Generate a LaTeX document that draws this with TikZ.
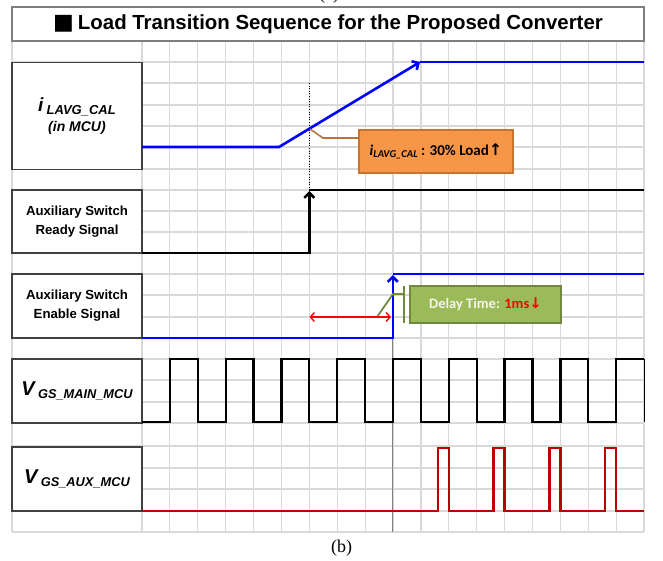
\documentclass[tikz,border=0pt]{standalone}
\usepackage{fontspec}
\setmainfont{Liberation Sans}
\newfontfamily\calib{Carlito}
\newfontfamily\symb{DejaVu Sans}
\newfontfamily\capfont{Liberation Serif}
\usetikzlibrary{arrows.meta}

\definecolor{gridgray}{HTML}{D9D9D9}
\definecolor{framegray}{HTML}{7F7F7F}
\definecolor{boxgray}{HTML}{404040}
\definecolor{cBlue}{HTML}{0000FF}
\definecolor{cPulse}{HTML}{C00000}
\definecolor{cArrowRed}{HTML}{FF0000}
\definecolor{cOrange}{HTML}{F79646}
\definecolor{cOrangeEdge}{HTML}{C8742E}
\definecolor{cOrangeLead}{HTML}{B5743A}
\definecolor{cGreen}{HTML}{9BBB59}
\definecolor{cGreenEdge}{HTML}{71893F}
\definecolor{cGreenText}{HTML}{F4F4EC}

\tikzset{
  gridline/.style={draw=gridgray, line width=1.2pt},
  labelbox/.style={draw=boxgray, fill=white, line width=1.1pt, minimum width=130pt,
    inner sep=0pt, align=center},
  twoline/.style={font=\bfseries\fontsize{13.2}{19}\selectfont},
  bluesig/.style={draw=cBlue, line width=2.6pt},
  blacksig/.style={draw=black, line width=2.6pt},
  wavesig/.style={draw=black, line width=2.3pt},
  pulsesig/.style={draw=cPulse, line width=2.3pt},
  barb/.style={-{Straight Barb[length=5pt,width=10pt]}},
  callorange/.style={draw=cOrangeEdge, fill=cOrange, line width=1.2pt,
    minimum width=154pt, minimum height=43pt, inner sep=0pt},
  callgreen/.style={draw=cGreenEdge, fill=cGreen, line width=1.4pt,
    minimum width=151pt, minimum height=37pt, inner sep=0pt},
}

\begin{document}
\begin{tikzpicture}[x=1pt, y=-1pt]
\useasboundingbox (0,0) rectangle (663,561);

% background grid of the timing chart
\foreach \k in {0,...,18}
  \draw[gridline] ({142+27.89*\k},41) -- ({142+27.89*\k},532);
\foreach \yy in {62,83,105,126,147,169,190,211,232,253,274,295,317,338,359,380,402,423,446,468,489,511,532}
  \draw[gridline] (12,\yy) -- (644,\yy);
\draw[gridline] (12,41) -- (12,532);

% reference markers
\draw[black, line width=0.6pt, dotted] (309.3,83) -- (309.3,190);
\draw[gray, line width=0.7pt] (392.8,338) -- (392.8,532);

% title and captions
\node[draw=framegray, line width=1.2pt, fill=white, minimum width=632pt, minimum height=34pt,
      inner sep=0pt] (title) at (328,24)
  {\fontsize{20.4}{24}\selectfont\bfseries{\symb\fontsize{22}{24}\selectfont ■}\hspace{4pt}Load Transition Sequence for the Proposed Converter};
\node[font=\capfont\fontsize{18}{20}\selectfont] (capa) at (329,-5) {(a)};
\node[font=\capfont\fontsize{18}{20}\selectfont] (capb) at (341.5,548) {(b)};

% signal names
\node[labelbox, minimum height=107pt, font=\bfseries\itshape\fontsize{14}{15}\selectfont] (lblI) at (77,116)
  {{\fontsize{19}{20}\selectfont i\,\raisebox{-3pt}{\fontsize{13}{14}\selectfont LAVG\_CAL}}\\[5pt]
   (in MCU)};
\node[labelbox, minimum height=63pt, twoline] (lblReady) at (77,221.5)
  {Auxiliary Switch\\ Ready Signal};
\node[labelbox, minimum height=64pt, twoline] (lblEnable) at (77,306)
  {Auxiliary Switch\\ Enable Signal};
\node[labelbox, minimum height=64pt, font=\bfseries\itshape\fontsize{20}{20}\selectfont] (lblMain) at (77,391)
  {V\,\raisebox{-3pt}{\fontsize{12.8}{13}\selectfont GS\_MAIN\_MCU}};
\node[labelbox, minimum height=64pt, font=\bfseries\itshape\fontsize{20}{20}\selectfont] (lblAux) at (77,479)
  {V\,\raisebox{-3pt}{\fontsize{12.8}{13}\selectfont GS\_AUX\_MCU}};

% i_LAVG_CAL ramp
\draw[bluesig, barb] (142,147) -- (279,147) -- (420,62);
\draw[bluesig] (420,62) -- (644,62);

% auxiliary switch ready signal
\draw[blacksig, barb] (142,253) -- (309.3,253) -- (309.3,191);
\draw[blacksig] (309.3,190) -- (644,190);

% auxiliary switch enable signal
\draw[bluesig, barb] (142,338) -- (392.8,338) -- (392.8,275);
\draw[bluesig] (392.8,274) -- (644,274);

% main gate drive
\draw[wavesig] (142,422)
  \foreach \k in {1,3,...,15} {
    -- ({142+27.89*\k},422) -- ({142+27.89*\k},359)
    -- ({142+27.89*(\k+1)},359) -- ({142+27.89*(\k+1)},422) }
  -- ({142+27.89*17},422) -- ({142+27.89*17},359) -- (644,359);
\draw[black, line width=1pt] (644,359) -- (644,422);

% auxiliary gate drive
\draw[pulsesig] (142,511)
  \foreach \k in {11,13,15,17} {
    -- ({142+27.89*\k-11},511) -- ({142+27.89*\k-11},448)
    -- ({142+27.89*\k},448) -- ({142+27.89*\k},511) }
  -- (644,511);

% load-rise callout
\node[callorange] (loadnote) at (436,151.5)
  {\calib\bfseries\fontsize{15}{16}\selectfont\textit{i}\raisebox{-2.5pt}{\fontsize{10.5}{11}\selectfont\itshape LAVG\_CAL}\ : 30\% Load{\symb\fontsize{16}{16}\selectfont ↑}};
\coordinate (loadtip) at (310,129);
\draw[cOrangeLead, line width=1.6pt] (loadtip) -- (323,138) -- (loadnote.west |- 0,138);

% delay-time callout
\node[callgreen] (delaynote) at (485.5,304.5)
  {\calib\bfseries\fontsize{14.5}{15}\selectfont\color{cGreenText}Delay Time: \textcolor{cArrowRed}{1ms{\symb\fontsize{15}{15}\selectfont ↓}}};
\coordinate (delaybar) at (404,294);
\coordinate (delaytip) at (377,317);
\draw[cGreenEdge, line width=1.8pt] (404,286) -- (404,323);
\draw[cGreenEdge, line width=1.8pt] (delaytip) -- (393,294) -- (delaybar);

% delay interval
\coordinate (dstart) at (309.5,317);
\coordinate (dend) at (391,317);
\draw[cArrowRed, line width=1.4pt, {Straight Barb[length=4pt,width=9pt]}-{Straight Barb[length=4pt,width=9pt]}] (dstart) -- (dend);
\end{tikzpicture}
\end{document}
